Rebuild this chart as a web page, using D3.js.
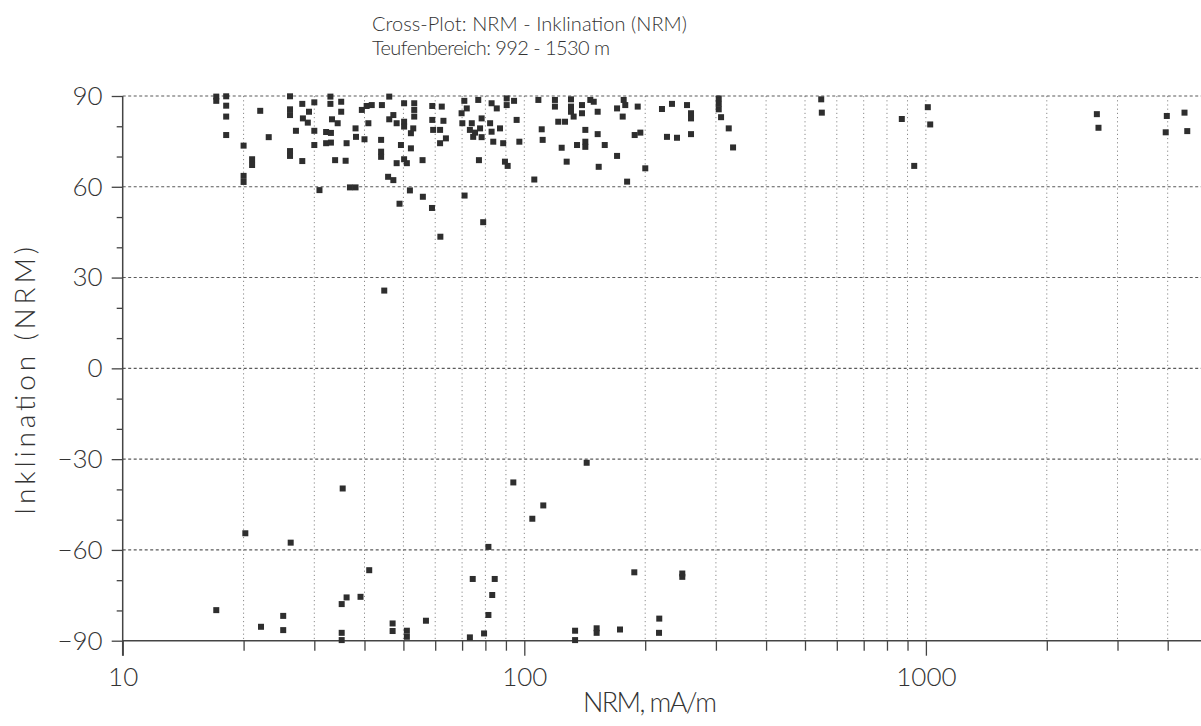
<!DOCTYPE html>
<html>
<head>
<meta charset="utf-8">
<script src="https://cdn.jsdelivr.net/npm/d3@7"></script>
<style>
  html, body { margin: 0; padding: 0; background: #fff; }
  svg { display: block; }
  text { font-family: "Lato", "Liberation Sans", sans-serif; font-weight: 300; fill: #333; }
</style>
</head>
<body>
<svg id="chart" width="1201" height="726"></svg>
<script>
// NRM intensity (mA/m) and NRM inclination (degrees) of the samples, 992 - 1530 m
const nrmUpper = [
  17.1, 17.1, 18.1, 18.1, 18.1, 18.1, 20.0, 20.0, 20.0, 21.0, 21.0, 22.0, 23.1, 26.1, 26.1, 26.1, 26.1, 26.1,
  27.0, 28.0, 28.0, 29.1, 28.1, 28.9, 30.0, 30.0, 30.0, 30.9, 32.1, 33.0, 32.1, 33.0, 32.9, 32.9, 33.8, 33.2,
  34.3, 35.0, 35.0, 35.9, 36.1, 38.0, 38.1, 40.0, 39.4, 40.5, 41.7, 44.2, 40.9, 44.0, 44.0, 44.0, 46.1, 46.1,
  47.2, 48.1, 50.2, 50.2, 50.2, 53.2, 53.2, 53.2, 52.2, 52.9, 49.3, 52.2, 48.1, 50.2, 51.0, 55.8, 45.8, 47.2,
  36.8, 38.0, 51.9, 55.9, 48.9, 58.9, 59.0, 62.3, 59.0, 62.9, 59.3, 61.7, 63.8, 61.7, 70.9, 71.9, 69.8, 76.8,
  70.1, 74.0, 73.2, 75.4, 78.3, 77.6, 74.6, 78.3, 77.1, 82.2, 82.9, 85.4, 82.9, 83.7, 87.0, 88.6, 90.4, 90.4,
  94.3, 95.7, 89.5, 90.9, 97.2, 71.0, 105.9, 108.4, 110.5, 111.1, 119.2, 119.2, 121.5, 126.3, 123.9, 127.5,
  130.7, 130.7, 130.7, 139.2, 139.2, 146.0, 148.9, 152.3, 132.7, 141.9, 141.9, 141.9, 135.3, 152.3, 158.6,
  170.2, 153.2, 180.3, 170.2, 176.8, 178.4, 175.8, 191.6, 188.3, 194.5, 200.1, 220.2, 233.2, 254.2, 260.1,
  260.1, 226.6, 240.0, 260.1, 304.9, 304.9, 304.9, 309.0, 322.9, 331.0, 548.7, 550.6, 871.0, 935.2, 1011,
  1025, 2665, 2690, 3980, 3955, 4405, 4475, 61.8, 79.0, 44.8
];
const incUpper = [
  89.8, 88.4, 89.9, 86.8, 83.2, 77.1, 73.6, 63.6, 61.6, 69.1, 67.2, 85.1, 76.4, 89.9, 85.6, 83.7, 71.8, 70.2,
  78.5, 87.4, 68.5, 84.8, 82.6, 81.2, 87.9, 78.5, 73.8, 58.9, 78.1, 77.8, 74.4, 74.6, 89.8, 87.4, 68.8, 82.3,
  81.0, 88.1, 84.8, 68.6, 74.4, 79.3, 76.5, 75.7, 85.4, 86.7, 87.0, 87.0, 81.0, 75.5, 71.6, 69.9, 89.8, 82.3,
  83.7, 81.0, 87.6, 81.5, 79.9, 87.6, 85.4, 83.2, 77.7, 79.3, 73.8, 72.7, 67.8, 69.1, 67.8, 68.8, 63.3, 62.2,
  59.8, 59.8, 58.8, 56.7, 54.4, 53.0, 86.7, 86.5, 82.1, 81.8, 78.8, 78.8, 76.0, 74.4, 88.4, 85.9, 84.3, 88.7,
  81.0, 81.0, 78.8, 77.9, 82.6, 79.3, 76.5, 76.4, 68.8, 81.0, 87.6, 85.9, 78.2, 74.9, 79.3, 74.4, 89.2, 87.0,
  88.4, 82.1, 68.3, 66.9, 74.9, 57.1, 62.4, 88.7, 79.0, 75.5, 88.7, 86.5, 81.5, 81.5, 72.9, 68.3,
  88.9, 86.5, 84.8, 87.0, 84.3, 88.7, 88.1, 84.8, 83.2, 78.8, 74.9, 73.2, 73.8, 77.4, 73.8,
  70.2, 66.6, 61.7, 85.9, 88.7, 87.0, 83.2, 86.5, 77.1, 77.9, 66.1, 85.7, 87.4, 87.0, 84.3,
  82.6, 76.5, 76.2, 77.4, 89.2, 87.4, 85.6, 83.0, 79.3, 73.0, 88.9, 84.5, 82.4, 66.9, 86.3,
  80.6, 84.0, 79.5, 83.4, 78.0, 84.5, 78.4, 43.5, 48.3, 25.7
];
const nrmLower = [
  17.1, 20.2, 22.1, 25.1, 25.1, 26.2, 35.3, 36.1, 35.1, 35.1, 35.1, 39.1, 41.1, 47.0, 47.0, 51.0, 51.0, 56.9,
  73.2, 79.4, 74.4, 84.4, 83.2, 81.4, 81.4, 93.9, 104.7, 111.5, 143.0, 133.8, 133.8, 151.4, 151.4, 173.1,
  187.9, 216.8, 216.5, 247.4, 247.4
];
const incLower = [
  -79.9, -54.5, -85.4, -81.8, -86.5, -57.6, -39.7, -75.7, -77.9, -87.4, -89.8, -75.5, -66.7, -84.3, -86.8, -86.7, -88.7, -83.4,
  -88.9, -87.6, -69.6, -69.6, -74.9, -81.5, -59.0, -37.7, -49.7, -45.3, -31.2, -86.7, -89.8, -85.9, -87.4, -86.3,
  -67.4, -82.7, -87.4, -67.8, -68.9
];

// Axis ticks
const xMajorTicks = [10, 100, 1000];
const xMinorTicks = [20, 30, 40, 50, 60, 70, 80, 90, 200, 300, 400, 500, 600, 700, 800, 900, 2000, 3000, 4000];
const yMajorTicks = [-90, -60, -30, 0, 30, 60, 90];
const yMinorTicks = [-80, -70, -50, -40, -20, -10, 10, 20, 40, 50, 70, 80];

const titleLines = ["Cross-Plot: NRM - Inklination (NRM)", "Teufenbereich: 992 - 1530 m"];
const xTitle = "NRM, mA/m";
const yTitle = "Inklination (NRM)";

const W = 1201, H = 726;
const plotLeft = 122.7, plotBottom = 640.7, plotTop = 96;
const decade = 401.6;

const points = nrmUpper.map((v, i) => ({ nrm: v, inc: incUpper[i] }))
  .concat(nrmLower.map((v, i) => ({ nrm: v, inc: incLower[i] })));

const svg = d3.select("#chart");
const x = d3.scaleLog().domain([10, 10000]).range([plotLeft, plotLeft + 3 * decade]);
const y = d3.scaleLinear().domain([-90, 90]).range([plotBottom, plotTop]);

// Grid
const grid = svg.append("g");
grid.selectAll("line.vg")
  .data(xMajorTicks.slice(1).concat(xMinorTicks).filter(d => x(d) <= W))
  .join("line")
  .attr("x1", d => x(d)).attr("x2", d => x(d))
  .attr("y1", y(90)).attr("y2", y(-90))
  .attr("stroke", "#8a8a8a").attr("stroke-width", 1)
  .attr("stroke-dasharray", "1.2,3");
grid.selectAll("line.hg")
  .data(yMajorTicks.filter(d => d > -90))
  .join("line")
  .attr("x1", plotLeft).attr("x2", W)
  .attr("y1", d => y(d)).attr("y2", d => y(d))
  .attr("stroke", "#5a5a5a").attr("stroke-width", 1.1)
  .attr("stroke-dasharray", "3,2.5");

// Y axis
const yAxis = svg.append("g").attr("transform", `translate(${plotLeft},0)`)
  .call(d3.axisLeft(y).tickValues(yMajorTicks).tickSize(11).tickPadding(9).tickFormat(d3.format("d")));
const yMinor = svg.append("g").attr("transform", `translate(${plotLeft},0)`)
  .call(d3.axisLeft(y).tickValues(yMinorTicks).tickSize(6).tickFormat(""));

// X axis
const xAxis = svg.append("g").attr("transform", `translate(0,${plotBottom})`)
  .call(d3.axisBottom(x).tickValues(xMajorTicks).tickSize(15).tickPadding(12).tickFormat(d3.format("d")));
const xMinor = svg.append("g").attr("transform", `translate(0,${plotBottom})`)
  .call(d3.axisBottom(x).tickValues(xMinorTicks.filter(d => x(d) <= W)).tickSize(10).tickFormat(""));

[yAxis, yMinor, xAxis, xMinor].forEach(g => {
  g.select(".domain").remove();
  g.selectAll(".tick line").attr("stroke", "#444").attr("stroke-width", 1.3);
  g.selectAll("text").attr("font-size", 26).attr("fill", "#333")
    .style("font-family", '"Lato", "Liberation Sans", sans-serif').style("font-weight", 300);
});

svg.append("line").attr("x1", plotLeft).attr("x2", W).attr("y1", plotBottom).attr("y2", plotBottom)
  .attr("stroke", "#444").attr("stroke-width", 1.5);
svg.append("line").attr("x1", plotLeft).attr("x2", plotLeft).attr("y1", plotTop).attr("y2", plotBottom + 15)
  .attr("stroke", "#444").attr("stroke-width", 1.5);

// Data points
const s = 6;
svg.append("g").selectAll("rect")
  .data(points.filter(d => x(d.nrm) <= W))
  .join("rect")
  .attr("x", d => x(d.nrm) - s / 2)
  .attr("y", d => y(d.inc) - s / 2)
  .attr("width", s).attr("height", s)
  .attr("fill", "#2e2e2e");

// Titles
svg.append("text").attr("x", 372).attr("y", 31).attr("font-size", 20)
  .attr("textLength", 315).attr("lengthAdjust", "spacing").text(titleLines[0]);
svg.append("text").attr("x", 372).attr("y", 55).attr("font-size", 20)
  .attr("textLength", 238).attr("lengthAdjust", "spacing").text(titleLines[1]);

svg.append("text").attr("x", 650).attr("y", 712).attr("text-anchor", "middle")
  .attr("font-size", 27).attr("textLength", 134).attr("lengthAdjust", "spacing").text(xTitle);

svg.append("text").attr("transform", `translate(35,381) rotate(-90)`).attr("text-anchor", "middle")
  .attr("font-size", 28).attr("textLength", 268).attr("lengthAdjust", "spacing").text(yTitle);
</script>
</body>
</html>
